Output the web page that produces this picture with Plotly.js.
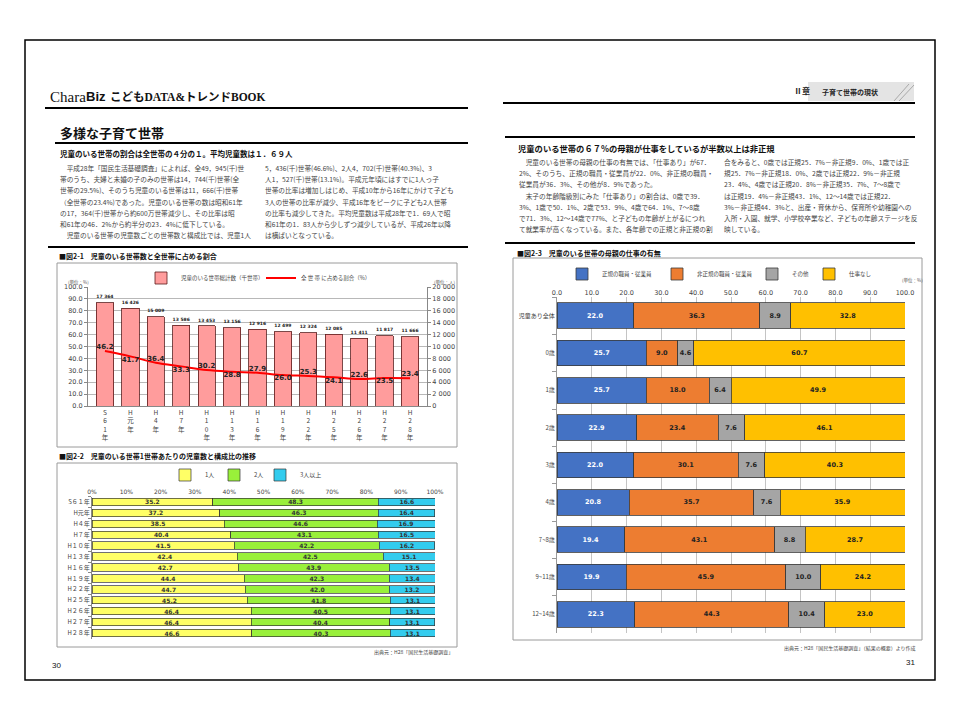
<!DOCTYPE html>
<html><head><meta charset="utf-8">
<script src="https://cdn.plot.ly/plotly-3.0.1.min.js"></script>
<style>html,body{margin:0;padding:0;background:#fff;}#chart{width:960px;height:720px;}</style>
</head><body><div id="chart"></div>
<script>
// ---------- DATA ----------
// 図2-1
const yearCats = ['S61年','H元年','H4年','H7年','H10年','H13年','H16年','H19年','H22年','H25年','H26年','H27年','H28年'];
const households = [17364,16426,15009,13586,13453,13156,12916,12499,12324,12085,11411,11817,11666];
const sharePct = [46.2,41.7,36.4,33.3,30.2,28.8,27.9,26.0,25.3,24.1,22.6,23.5,23.4];
// 図2-2
const yearLabels2 = ['S６１年','H元年','H４年','H７年','H１０年','H１３年','H１６年','H１９年','H２２年','H２５年','H２６年','H２７年','H２８年'];
const oneChild = [35.2,37.2,38.5,40.4,41.5,42.4,42.7,44.4,44.7,45.2,46.4,46.4,46.6];
const twoChildren = [48.3,46.3,44.6,43.1,42.2,42.5,43.9,42.3,42.0,41.8,40.5,40.4,40.3];
const threePlus = [16.6,16.4,16.9,16.5,16.2,15.1,13.5,13.4,13.2,13.1,13.1,13.1,13.1];
// 図2-3
const ageGroups = ['児童あり全体','0歳','1歳','2歳','3歳','4歳','7~8歳','9~11歳','12~14歳'];
const regular = [22.0,25.7,25.7,22.9,22.0,20.8,19.4,19.9,22.3];
const nonRegular = [36.3,9.0,18.0,23.4,30.1,35.7,43.1,45.9,44.3];
const otherWork = [8.9,4.6,6.4,7.6,7.6,7.6,8.8,10.0,10.4];
const noJob = [32.8,60.7,49.9,46.1,40.3,35.9,28.7,24.2,23.0];

// text content
const leftCol1 = [
'　平成28年「国民生活基礎調査」によれば、全49，945(千)世',
'帯のうち、夫婦と未婚の子のみの世帯は14，744(千)世帯(全',
'世帯の29.5%)、そのうち児童のいる世帯は11，666(千)世帯',
'（全世帯の23.4%)であった。児童のいる世帯の数は昭和61年',
'の17，364(千)世帯から約600万世帯減少し、その比率は昭',
'和61年の46．2%から約半分の23．4%に低下している。',
'　児童のいる世帯の児童数ごとの世帯数と構成比では、児童1人'];
const leftCol2 = [
'5，436(千)世帯(46.6%)、2人4，702(千)世帯(40.3%)、3',
'人1，527(千)世帯(13.1%)。平成元年頃にはすでに1人っ子',
'世帯の比率は増加しはじめ、平成10年から16年にかけて子ども',
'3人の世帯の比率が減少、平成16年をピークに子ども2人世帯',
'の比率も減少してきた。平均児童数は平成28年で1．69人で昭',
'和61年の1．83人から少しずつ減少しているが、平成26年以降',
'は横ばいとなっている。'];
const rightCol1 = [
'　児童のいる世帯の母親の仕事の有無では、「仕事あり」が67．',
'2%、そのうち、正規の職員・従業員が22．0%、非正規の職員・',
'従業員が36．3%、その他が8．9%であった。',
'　末子の年齢階級別にみた「仕事あり」の割合は、0歳で39．',
'3%、1歳で50．1%、2歳で53．9%、4歳で64．1%、7～8歳',
'で71．3%、12～14歳で77%、と子どもの年齢が上がるにつれ',
'て就業率が高くなっている。また、各年齢での正規と非正規の割'];
const rightCol2 = [
'合をみると、0歳では正規25．7%－非正規9．0%、1歳では正',
'規25．7%－非正規18．0%、2歳では正規22．9%－非正規',
'23．4%、4歳では正規20．8%－非正規35．7%、7～8歳で',
'は正規19．4%－非正規43．1%、12～14歳では正規22．',
'3%－非正規44．3%と、出産・育休から、保育所や幼稚園への',
'入所・入園、就学、小学校卒業など、子どもの年齢ステージを反',
'映している。'];

// ---------- HELPERS ----------
const W = 960, H = 720;
const X = v => v / W;
const Y = v => 1 - v / H;
const JP = 'Noto Sans CJK JP, sans-serif';
const NUM = 'DejaVu Sans, Noto Sans CJK JP, sans-serif';
const SERIF = 'Liberation Serif, Noto Sans CJK JP, serif';

function txt(text, x, y, size, opt) {
  opt = opt || {};
  return {text: text, x: X(x), y: Y(y), xref: 'paper', yref: 'paper',
    xanchor: opt.anchor || 'left', yanchor: 'middle', showarrow: false,
    font: {family: opt.family || JP, size: size, color: opt.color || '#333'}};
}
function hline(x0, x1, y, w, c) {
  return {type: 'line', xref: 'paper', yref: 'paper', x0: X(x0), x1: X(x1), y0: Y(y), y1: Y(y),
    line: {color: c || '#000', width: w}};
}
function box(x0, y0, x1, y1, c, w, fill) {
  return {type: 'rect', xref: 'paper', yref: 'paper', x0: X(x0), x1: X(x1), y0: Y(y1), y1: Y(y0),
    line: {color: c, width: w}, fillcolor: fill || 'rgba(0,0,0,0)'};
}

// ---------- TRACES ----------
const lblFont = (c, s) => ({family: NUM, size: s || 6.5, color: c || '#222', weight: 'bold'});
const traces = [
  {type: 'bar', name: '児童のいる世帯総計数（千世帯）', x: yearCats, y: households,
   xaxis: 'x', yaxis: 'y', legend: 'legend',
   marker: {color: '#FF9C9C', line: {color: '#5a1a1a', width: 0.8}},
   texttemplate: '%{y:,}', textposition: 'outside', textangle: 0, cliponaxis: false,
   textfont: lblFont('#222', 7), hoverinfo: 'skip'},
  {type: 'scatter', mode: 'lines+text', name: '全 世 帯 に占める割合（%）', x: yearCats, y: sharePct,
   xaxis: 'x', yaxis: 'y2', legend: 'legend',
   line: {color: '#FF0000', width: 2, shape: 'spline'},
   texttemplate: '%{y:.1f}', textposition: sharePct.map((v, i) => i % 2 === 0 ? 'top center' : 'bottom center'),
   textfont: lblFont('#222', 7), cliponaxis: false, hoverinfo: 'skip'}
];
const c2 = [['1人', oneChild, '#FFFF66', 'legend2'], ['2人', twoChildren, '#99F03A', 'legend5'],
            ['3人以上', threePlus, '#33CCEE', 'legend6']];
c2.forEach(([n, v, col, lg]) => traces.push({
  type: 'bar', orientation: 'h', name: n, x: v, y: yearLabels2, xaxis: 'x2', yaxis: 'y3', legend: lg,
  marker: {color: col, line: {color: '#333', width: 0.7}},
  texttemplate: '%{x:.1f}', textposition: 'inside', insidetextanchor: 'middle', textangle: 0,
  constraintext: 'none', textfont: lblFont('#333', 6), hoverinfo: 'skip'}));
const c3 = [['正規の職員・従業員', regular, '#4472C4', '#fff', 'legend3'],
            ['非正規の職員・従業員', nonRegular, '#ED7D31', '#222', 'legend3'],
            ['その他', otherWork, '#A5A5A5', '#222', 'legend3'],
            ['仕事なし', noJob, '#FFC000', '#222', 'legend4']];
c3.forEach(([n, v, col, tc, lg]) => traces.push({
  type: 'bar', orientation: 'h', name: n, x: v, y: ageGroups, xaxis: 'x3', yaxis: 'y4', legend: lg,
  marker: {color: col, line: {color: '#3a3a3a', width: 0.8}},
  texttemplate: '%{x:.1f}', textposition: 'inside', insidetextanchor: 'middle', textangle: 0,
  constraintext: 'none', textfont: lblFont(tc, 6.5), hoverinfo: 'skip'}));

// ---------- LAYOUT ----------
const tickF = (s) => ({family: NUM, size: s || 6.5, color: '#444'});
const annotations = [
  txt('Chara', 48, 97, 15, {family: SERIF, color: '#111'}),
  txt('<b>Biz</b>', 84, 97, 13, {family: 'Liberation Sans, sans-serif', color: '#111'}),
  txt('<b>こどもDATA&amp;トレンドBOOK</b>', 108, 97, 11.5, {family: SERIF, color: '#111'}),
  txt('<b>Ⅱ章</b>', 792, 91, 8, {family: SERIF, color: '#222'}),
  txt('<b>子育て世帯の現状</b>', 820, 92, 7, {family: JP, color: '#222'}),
  txt('<b>多様な子育て世帯</b>', 58, 132, 13, {color: '#111'}),
  txt('<b>児童のいる世帯の割合は全世帯の４分の１。平均児童数は１．６９人</b>', 58, 153, 7.5, {color: '#111'}),
  txt('<b>児童のいる世帯の６７%の母親が仕事をしているが半数以上は非正規</b>', 516, 148, 8.3, {color: '#111'}),
  txt('<b>■図2-1　児童のいる世帯数と全世帯に占める割合</b>', 57, 256, 7, {color: '#111'}),
  txt('<b>■図2-2　児童のいる世帯1世帯あたりの児童数と構成比の推移</b>', 57, 456, 7, {color: '#111'}),
  txt('<b>■図2-3　児童のいる世帯の母親の仕事の有無</b>', 515, 253, 7, {color: '#111'}),
  txt('(単位：%)', 66, 283, 4.5, {color: '#555'}),
  txt('(単位：人)', 432, 283, 4.5, {color: '#555'}),
  txt('(単位：%)', 900, 281, 4.5, {color: '#555'}),
  txt('出典元：H28「国民生活基礎調査」', 455, 652, 5, {anchor: 'right', color: '#444'}),
  txt('出典元：H28「国民生活基礎調査」（結果の概要）より作成', 918, 648, 5, {anchor: 'right', color: '#444'}),
  txt('30', 50, 665, 8, {family: 'Liberation Sans, sans-serif', color: '#111'}),
  txt('31', 904, 662, 8, {family: 'Liberation Sans, sans-serif', color: '#111'})
];
leftCol1.forEach((t, i) => annotations.push(txt(t, 58, 168 + i * 11.2, 6.7, {color: '#444'})));
leftCol2.forEach((t, i) => annotations.push(txt(t, 263, 168 + i * 11.2, 6.7, {color: '#444'})));
rightCol1.forEach((t, i) => annotations.push(txt(t, 517, 162 + i * 11.2, 6.7, {color: '#444'})));
rightCol2.forEach((t, i) => annotations.push(txt(t, 722, 162 + i * 11.2, 6.7, {color: '#444'})));

const shapes = [
  box(25, 40, 935, 680, '#000', 1.5),
  hline(45, 468, 108, 2),
  hline(55, 468, 143, 2),
  hline(48, 468, 247, 2),
  hline(503, 915, 103, 2),
  hline(505, 915, 137, 2),
  hline(505, 915, 243, 2),
  box(808, 82, 914, 101, 'rgba(0,0,0,0)', 0, '#e4e4e4'),
  {type: 'line', xref: 'paper', yref: 'paper', x0: X(894), y0: Y(101), x1: X(909), y1: Y(84), line: {color: '#999', width: 0.8}},
  {type: 'line', xref: 'paper', yref: 'paper', x0: X(899), y0: Y(101), x1: X(914), y1: Y(85), line: {color: '#999', width: 0.8}},
  box(57, 263, 457, 447, '#9a9a9a', 1),
  box(57, 463, 457, 647, '#9a9a9a', 1),
  box(513, 258, 922, 640, '#9a9a9a', 1)
];

const lg = (x, y, ew, size) => ({orientation: 'h', x: X(x), y: Y(y), xanchor: 'left', yanchor: 'middle',
  bgcolor: 'rgba(0,0,0,0)', traceorder: 'normal', font: {family: JP, size: size, color: '#444'},
  entrywidth: ew, itemwidth: 30});

const layout = {
  width: 960, height: 720, autosize: false, margin: {l: 0, r: 0, t: 0, b: 0},
  paper_bgcolor: '#fff', plot_bgcolor: 'rgba(0,0,0,0)',
  separators: '. ', barmode: 'stack', bargap: 0.32,
  font: {family: JP, size: 7, color: '#333'},
  showlegend: true,
  xaxis: {domain: [X(88), X(427)], anchor: 'y', type: 'category', showline: true, linecolor: '#888',
    ticks: '', tickvals: yearCats, ticktext: yearCats.map(s => s.split('').join('<br>')),
    tickfont: {family: JP, size: 6.5, color: '#444'}, showgrid: false, fixedrange: true},
  yaxis: {domain: [Y(406), Y(287)], anchor: 'x', side: 'right', range: [0, 20000], dtick: 2000, tickformat: ',',
    showgrid: true, gridcolor: '#b8b8b8', showline: true, linecolor: '#888', ticks: 'outside', ticklen: 3,
    tickcolor: '#888', tickfont: tickF(6.5), zeroline: false},
  yaxis2: {overlaying: 'y', anchor: 'x', side: 'left', range: [0, 100], dtick: 10, tickformat: '.1f',
    showgrid: false, showline: true, linecolor: '#888', ticks: 'outside', ticklen: 3, tickcolor: '#888',
    tickfont: tickF(6.5), zeroline: false},
  xaxis2: {domain: [X(92), X(435)], anchor: 'y3', side: 'top', range: [0, 100], dtick: 10, ticksuffix: '%',
    showgrid: false, showline: false, ticks: '', zeroline: false, tickfont: tickF(6)},
  yaxis3: {domain: [Y(638.5), Y(496.5)], anchor: 'x2', type: 'category', autorange: 'reversed', showline: true,
    linecolor: '#888', ticks: 'outside', tickson: 'boundaries', ticklen: 3, tickcolor: '#888',
    tickfont: {family: JP, size: 6, color: '#444'}},
  xaxis3: {domain: [X(557), X(905)], anchor: 'y4', side: 'top', range: [0, 100], dtick: 10, tickformat: '.1f',
    showgrid: true, gridcolor: '#c4c4c4', showline: false, ticks: '', zeroline: false, tickfont: tickF(6.5)},
  yaxis4: {domain: [Y(633), Y(297)], anchor: 'x3', type: 'category', autorange: 'reversed', showline: true,
    linecolor: '#999', ticks: 'outside', tickson: 'boundaries', ticklen: 4, tickcolor: '#999',
    tickfont: {family: JP, size: 6, color: '#444'}},
  legend: lg(141, 278, 75, 5.5),
  legend2: lg(165, 475, 0, 6),
  legend5: lg(214, 475, 0, 6),
  legend6: lg(260, 475, 0, 6),
  legend3: lg(562, 274, 50, 5.5),
  legend4: lg(809, 274, 50, 5.5),
  shapes: shapes, annotations: annotations
};

Plotly.newPlot('chart', traces, layout, {staticPlot: true});
</script></body></html>
